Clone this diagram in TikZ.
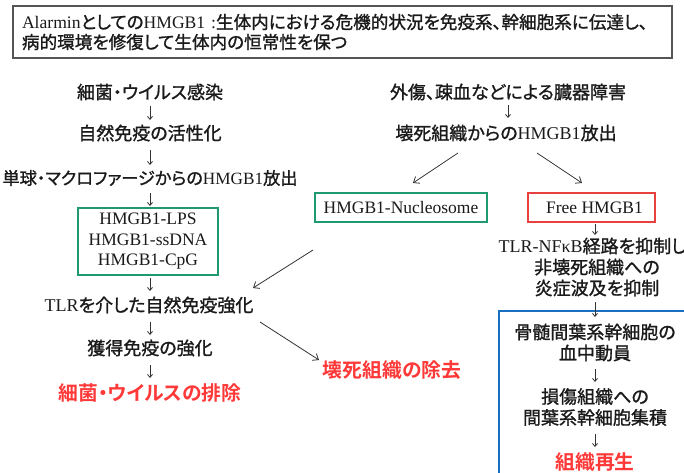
\documentclass[tikz,border=0pt]{standalone}
\usepackage{fontspec}
\setmainfont{Liberation Serif}
\newfontfamily\jp{Noto Sans CJK JP}[RawFeature=+palt, FakeBold=1.2]
\newfontfamily\jpb{Noto Sans CJK JP}[RawFeature=+palt, UprightFont=*, BoldFont=* Bold]
\usetikzlibrary{arrows.meta}
\definecolor{gr}{HTML}{1E9A6E}
\definecolor{rd}{HTML}{E8403C}
\definecolor{rt}{HTML}{FF3838}
\definecolor{bl}{HTML}{1A6FC0}
\definecolor{tx}{HTML}{1A1A1A}
\definecolor{ar}{HTML}{333333}
\definecolor{fr}{HTML}{555555}
\newcommand\la[1]{{\rmfamily #1}}
\newcommand\bodyf{\fontsize{18}{21}\selectfont\jp}
\newcommand\redf{\fontsize{19.8}{22}\selectfont\jpb\bfseries}
\newcommand\latf{\fontsize{17.5}{20.5}\selectfont\rmfamily}
\tikzset{
  jt/.style={font=\bodyf, text=tx, inner sep=0pt, align=center},
  rt/.style={font=\redf, text=rt, inner sep=0pt, align=center},
  lbox/.style={font=\latf, text=tx, line width=1.5pt, inner sep=0pt, align=center},
  varr/.style={draw=ar, line width=0.8pt, -{Straight Barb[length=3pt,width=5pt]}},
  darr/.style={draw=ar, line width=0.8pt, -{Straight Barb[length=5pt,width=8pt]}}
}
\begin{document}
\begin{tikzpicture}[x=1pt,y=-1pt]
\clip (0,0) rectangle (684,472);
\fill[white] (0,0) rectangle (684,472);
% title box
\node[draw=fr, line width=1.2pt, minimum width=659pt, minimum height=52pt,
  inner xsep=9pt, text width=641pt, align=left, font=\fontsize{17.6}{20}\selectfont\jp, text=tx]
  (title) at (342.5,32) {\la{Alarmin}としての\la{HMGB1 :}生体内における危機的状況を免疫系、幹細胞系に伝達し、\\病的環境を修復して生体内の恒常性を保つ};
% left column
\node[jt] (l1) at (150,92) {細菌・ウイルス感染};
\node[jt] (l2) at (150,133) {自然免疫の活性化};
\node[jt, font=\fontsize{17.2}{21}\selectfont\jp] (l3) at (150,178) {単球・マクロファージからの\la{HMGB1}放出};
\node[lbox, draw=gr, minimum width=140pt, minimum height=67pt] (l4) at (148,241.5) {HMGB1-LPS\\HMGB1-ssDNA\\HMGB1-CpG};
\node[jt] (l5) at (149,305) {\la{TLR}を介した自然免疫強化};
\node[jt] (l6) at (150,348) {獲得免疫の強化};
\node[rt] (l7) at (150,393) {細菌・ウイルスの排除};
\coordinate (a1s) at (150,106); \coordinate (a1e) at (150,120);
\coordinate (a2s) at (150,150); \coordinate (a2e) at (150,165);
\coordinate (a3s) at (150,193); \coordinate (a3e) at (150,206);
\coordinate (a4s) at (150,278); \coordinate (a4e) at (150,291);
\coordinate (a5s) at (150,322); \coordinate (a5e) at (150,335);
\coordinate (a6s) at (150,365); \coordinate (a6e) at (150,378);
\draw[varr] (a1s) -- (a1e);
\draw[varr] (a2s) -- (a2e);
\draw[varr] (a3s) -- (a3e);
\draw[varr] (a4s) -- (a4e);
\draw[varr] (a5s) -- (a5e);
\draw[varr] (a6s) -- (a6e);
% middle
\node[rt] (m1) at (392,370) {壊死組織の除去};
\coordinate (d1s) at (313,250); \coordinate (d1e) at (253,288);
\coordinate (d2s) at (260,322); \coordinate (d2e) at (319,360);
\draw[darr] (d1s) -- (d1e);
\draw[darr] (d2s) -- (d2e);
% right column
\node[jt] (r1) at (508,92) {外傷、疎血などによる臓器障害};
\node[jt] (r2) at (506,133) {壊死組織からの\la{HMGB1}放出};
\node[lbox, draw=gr, minimum width=172pt, minimum height=29pt] (nuc) at (401,207.5) {HMGB1-Nucleosome};
\node[lbox, draw=rd, minimum width=127pt, minimum height=29pt] (free) at (591.5,207.5) {\hspace{6pt}Free HMGB1};
\node[jt] (r3) at (597,267) {\la{TLR-NFκB}経路を抑制し、\\非壊死組織への\\炎症波及を抑制};
\draw[bl, line width=2pt] (499,311) rectangle (720,500);
\node[jt] (r4) at (595,342.5) {骨髄間葉系幹細胞の\\血中動員};
\node[jt] (r5) at (595,407) {損傷組織への\\間葉系幹細胞集積};
\node[rt] (r6) at (595,462) {組織再生};
\coordinate (b1s) at (508,105); \coordinate (b1e) at (508,118);
\coordinate (b2s) at (458,153); \coordinate (b2e) at (413,183);
\coordinate (b3s) at (537,153); \coordinate (b3e) at (582,183);
\coordinate (b4s) at (595,224); \coordinate (b4e) at (595,235);
\coordinate (b5s) at (595,302); \coordinate (b5e) at (595,317);
\coordinate (b6s) at (595,369); \coordinate (b6e) at (595,382);
\coordinate (b7s) at (595,434); \coordinate (b7e) at (595,447);
\draw[varr] (b1s) -- (b1e);
\draw[darr] (b2s) -- (b2e);
\draw[darr] (b3s) -- (b3e);
\draw[varr] (b4s) -- (b4e);
\draw[varr] (b5s) -- (b5e);
\draw[varr] (b6s) -- (b6e);
\draw[varr] (b7s) -- (b7e);
\end{tikzpicture}
\end{document}
